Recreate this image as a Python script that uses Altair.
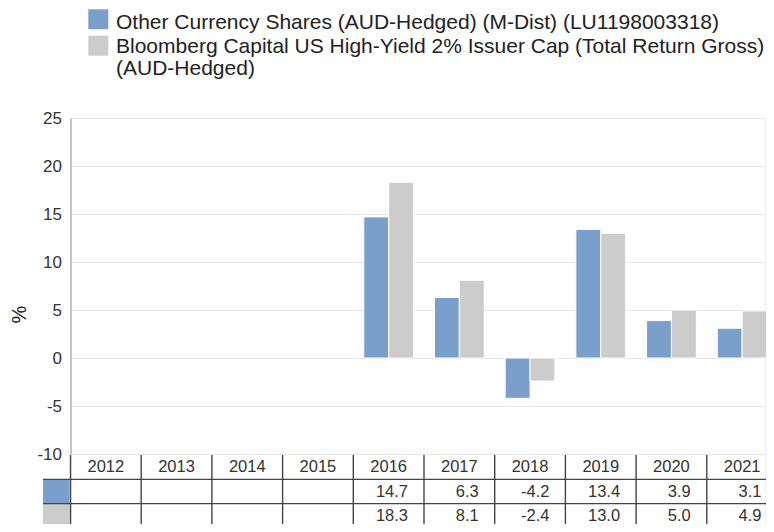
import altair as alt
import pandas as pd

years = [2012, 2013, 2014, 2015, 2016, 2017, 2018, 2019, 2020, 2021]
series_names = [
    "Other Currency Shares (AUD-Hedged) (M-Dist) (LU1198003318)",
    "Bloomberg Capital US High-Yield 2% Issuer Cap (Total Return Gross) (AUD-Hedged)",
]
legend_labels = [
    "Other Currency Shares (AUD-Hedged) (M-Dist) (LU1198003318)",
    "Bloomberg Capital US High-Yield 2% Issuer Cap (Total Return Gross)\n(AUD-Hedged)",
]
fund_returns = [None, None, None, None, 14.7, 6.3, -4.2, 13.4, 3.9, 3.1]
index_returns = [None, None, None, None, 18.3, 8.1, -2.4, 13.0, 5.0, 4.9]
series_colors = ["#7b9fcb", "#cccccc"]
y_ticks = [-10, -5, 0, 5, 10, 15, 20, 25]
row_keys = ["hdr", "s1", "s2"]

FONT = "Liberation Sans"

# ---- data tables built from the arrays ----
bar_rows = []
for name, vals in zip(series_names, [fund_returns, index_returns]):
    for yr, v in zip(years, vals):
        if v is not None:
            bar_rows.append({"year": yr, "series": name, "value": v})
bars_df = pd.DataFrame(bar_rows)

hdr_df = pd.DataFrame({"year": years, "row": "hdr", "txt": [str(y) for y in years]})
val_rows = []
for key, vals in zip(["s1", "s2"], [fund_returns, index_returns]):
    for yr, v in zip(years, vals):
        val_rows.append({"year": yr, "row": key, "txt": "" if v is None else f"{v:.1f}"})
val_df = pd.DataFrame(val_rows)
col_df = pd.DataFrame({"year": years})
hline_df = pd.DataFrame({"row": ["s1", "s2"]})
swatch_df = pd.DataFrame({"row": ["s1", "s2"], "series": series_names})
legend_df = pd.DataFrame({"series": series_names, "label": legend_labels})

# ---- scales ----
x_scale = alt.Scale(domain=years, range=[0, 707], paddingInner=0, paddingOuter=0)
row_scale = alt.Scale(domain=row_keys, range=[337, 410], paddingInner=0, paddingOuter=0)
color_scale = alt.Scale(domain=series_names, range=series_colors)
color_enc = alt.Color("series:N", scale=color_scale, legend=None)

bars = alt.Chart(bars_df).mark_bar(stroke="white", strokeWidth=1).encode(
    x=alt.X("year:O", scale=x_scale, axis=None),
    xOffset=alt.XOffset("series:N", scale=alt.Scale(domain=series_names, paddingOuter=0.42, paddingInner=0)),
    y=alt.Y(
        "value:Q",
        scale=alt.Scale(domain=[-10, 25], range=[336, 0], nice=False, zero=False),
        axis=alt.Axis(
            values=y_ticks, title="%", titleX=-51.5, titleY=196, titleAngle=-90,
            titleAlign="center", titleBaseline="middle", titleFontSize=20,
            titleFontWeight="normal", titleColor="#222", titleFont=FONT,
            labelFontSize=17, labelColor="#333", labelFont=FONT, labelPadding=9,
            labelExpr="'' + datum.value",
            ticks=False, domainColor="#9a9a9a", gridColor="#e6e6e6",
        ),
    ),
    color=color_enc,
)

hdr_text = alt.Chart(hdr_df).mark_text(fontSize=16.5, color="#333", align="center", baseline="middle", font=FONT).encode(
    x=alt.X("year:O", scale=x_scale, axis=None),
    y=alt.Y("row:N", scale=row_scale, axis=None),
    text="txt:N",
)

val_text = alt.Chart(val_df).mark_text(fontSize=16.5, color="#333", align="right", baseline="middle", dx=-16, font=FONT).encode(
    x=alt.X("year:O", scale=x_scale, axis=None, bandPosition=1),
    y=alt.Y("row:N", scale=row_scale, axis=None),
    text="txt:N",
)

vlines = alt.Chart(col_df).mark_rule(color="#444", strokeWidth=1.4).encode(
    x=alt.X("year:O", scale=x_scale, axis=None, bandPosition=0),
    y=alt.value(337),
    y2=alt.value(420),
)

hlines = alt.Chart(hline_df).mark_rule(color="#444", strokeWidth=1.4).encode(
    y=alt.Y("row:N", scale=row_scale, axis=None, bandPosition=0),
    x=alt.value(-27.5),
    x2=alt.value(707),
)

swatches = alt.Chart(swatch_df).mark_rect().encode(
    x=alt.value(-27.5),
    x2=alt.value(-1),
    y=alt.Y("row:N", scale=row_scale, axis=None),
    color=color_enc,
)

legend_sym = alt.Chart(legend_df).mark_square(size=400, opacity=1, strokeWidth=0).encode(
    x=alt.value(27.8),
    y=alt.Y("series:N", scale=alt.Scale(type="point", domain=series_names, range=[-98.7, -72.3], padding=0), axis=None),
    color=color_enc,
)

legend_txt = alt.Chart(legend_df).mark_text(
    align="left", baseline="alphabetic", fontSize=21, lineBreak="\n", lineHeight=22,
    color="#222", font=FONT,
).encode(
    x=alt.value(45.5),
    y=alt.Y("series:N", scale=alt.Scale(type="point", domain=series_names, range=[-88.7, -65.2], padding=0), axis=None),
    text="label:N",
)

chart = alt.layer(
    bars, swatches, vlines, hlines, hdr_text, val_text, legend_sym, legend_txt
).resolve_scale(y="independent").properties(
    width=695,
    height=406,
    autosize=alt.AutoSizeParams(type="none"),
    padding={"left": 62.5, "top": 110, "right": 0, "bottom": 0},
).configure_view(stroke=None).configure(font=FONT)

chart.save("out.html", embed_options={"renderer": "svg", "actions": False})
